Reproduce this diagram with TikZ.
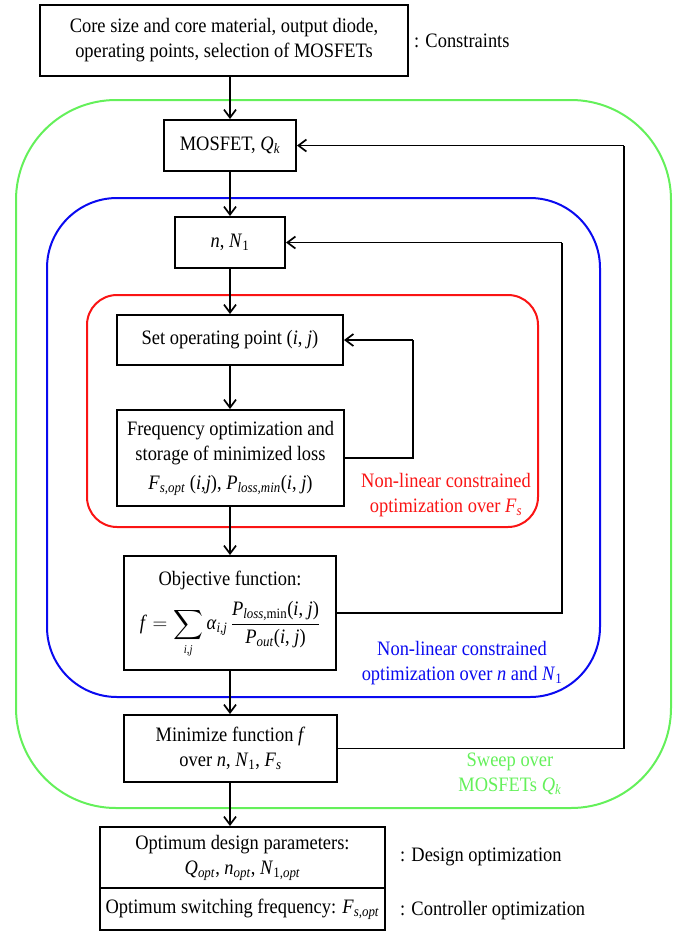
\RequirePackage{fix-cm}
\documentclass[tikz,border=0pt]{standalone}
\usepackage{amsmath}
\usepackage{exscale}
\usepackage{fontspec}
\setmainfont[FakeStretch=0.9]{Liberation Serif}
\usetikzlibrary{arrows.meta}
\newcommand\vv[1]{\textit{#1}}
\definecolor{swgreen}{RGB}{100,240,90}
\definecolor{nlblue}{RGB}{10,10,240}
\definecolor{nlred}{RGB}{250,20,20}
\begin{document}
\begin{tikzpicture}[x=1pt,y=-1pt,
  every node/.style={font=\fontsize{20.5}{25}\selectfont},
  box/.style={draw=black, line width=2pt, inner sep=0pt, align=center, fill=white},
  arr/.style={line width=1.7pt, -{Straight Barb[length=8pt,width=12pt,line width=1.7pt]}},
  conn/.style={line width=1.7pt},
  loopbox/.style={line width=2pt, rounded corners=#1},
  lbl/.style={align=center, inner sep=0pt}
]
\useasboundingbox (0,0) rectangle (688,935);

% loop frames
\draw[loopbox=100, draw=swgreen] (16,100) rectangle (671,808);
\draw[loopbox=70, draw=nlblue] (47,198) rectangle (600,697);
\draw[loopbox=30, draw=nlred] (87,295) rectangle (538,527);

% nodes
\node[box, minimum width=368, minimum height=71] (top) at (224,40.5)
  {Core size and core material, output diode,\\operating points, selection of MOSFETs};
\node[lbl, anchor=west] (cons) at (414,41) {: Constraints};

\node[box, minimum width=132, minimum height=51] (mos) at (230,145.5) {MOSFET, \vv{Q}\textsubscript{\vv{k}}};
\node[box, minimum width=110, minimum height=51] (nn) at (230,242.5) {\vv{n}, \vv{N}\textsubscript{1}};
\node[box, minimum width=226, minimum height=50] (setop) at (230,340) {Set operating point (\vv{i}, \vv{j})};
\node[box, minimum width=227, minimum height=96] (freq) at (230.5,458)
  {Frequency optimization and\\storage of minimized loss\\[4pt]
   \vv{F}\textsubscript{\vv{s,opt}} (\vv{i},\vv{j}), \vv{P}\textsubscript{\vv{loss,min}}(\vv{i}, \vv{j})};
\node[box, minimum width=212, minimum height=114] (obj) at (230,613) {};
\node[lbl] (objt) at (230,580) {Objective function:};
\node[lbl] (objf) at (230,630)
  {$\displaystyle \mbox{\vv{f}} = \sum_{\mbox{\fontsize{12}{12}\selectfont\vv{i},\vv{j}}}
   \mbox{\vv{α}\textsubscript{\vv{i},\vv{j}}}\,
   \frac{\mbox{\vv{P}\textsubscript{\vv{loss},min}(\vv{i}, \vv{j})}}{\mbox{\vv{P}\textsubscript{\vv{out}}(\vv{i}, \vv{j})}}$};
\node[box, minimum width=213, minimum height=67] (minim) at (230.5,748.5)
  {Minimize function \vv{f}\\over \vv{n}, \vv{N}\textsubscript{1}, \vv{F}\textsubscript{\vv{s}}};
\node[box, minimum width=285, minimum height=61] (res1) at (242.5,857.5)
  {Optimum design parameters:\\
   \vv{Q}\textsubscript{\vv{opt}}, \vv{n}\textsubscript{\vv{opt}}, \vv{N}\textsubscript{1,\vv{opt}}};
\node[box, minimum width=285, minimum height=42] (res2) at (242.5,909)
  {Optimum switching frequency: \vv{F}\textsubscript{\vv{s,opt}}};
\node[lbl, anchor=west] (dopt) at (400,857) {: Design optimization};
\node[lbl, anchor=west] (copt) at (400,911) {: Controller optimization};

% loop labels
\node[lbl, text=nlred] (redlbl) at (446,495) {Non-linear constrained\\optimization over \vv{F}\textsubscript{\vv{s}}};
\node[lbl, text=nlblue] (bluelbl) at (462,663) {Non-linear constrained\\optimization over \vv{n} and \vv{N}\textsubscript{1}};
\node[lbl, text=swgreen] (greenlbl) at (510,774) {Sweep over\\MOSFETs \vv{Q}\textsubscript{\vv{k}}};

% connectors
\draw[arr] (top.south -| mos.south) -- (mos.north);
\draw[arr] (mos.south) -- (nn.north);
\draw[arr] (nn.south) -- (setop.north);
\draw[arr] (setop.south) -- (setop.south |- freq.north);
\draw[arr] (setop.south |- freq.south) -- (obj.north);
\draw[arr] (obj.south) -- (obj.south |- minim.north);
\draw[arr] (obj.south |- minim.south) -- (obj.south |- res1.north);

\coordinate (rl) at (413,340);
\coordinate (bl) at (562,242.5);
\coordinate (gl) at (624,145.5);
\draw[conn] (freq.east) -| (rl);
\draw[arr] (rl) -- (setop.east);
\draw[conn] (obj.east) -| (bl);
\draw[arr] (bl) -- (nn.east);
\draw[conn] (minim.east) -| (gl);
\draw[arr] (gl) -- (mos.east);
\end{tikzpicture}
\end{document}
